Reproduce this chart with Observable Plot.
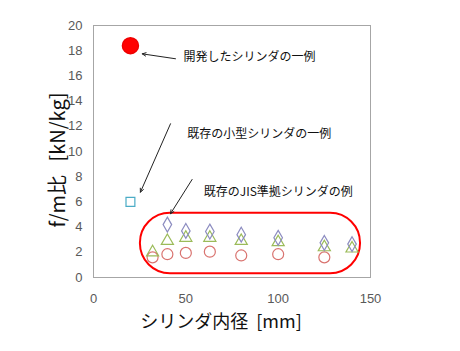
<!DOCTYPE html>
<html><head><meta charset="utf-8">
<script src="https://cdn.jsdelivr.net/npm/d3@7"></script>
<script src="https://cdn.jsdelivr.net/npm/@observablehq/plot@0.6"></script>
<style>body{margin:0;background:#fff;}</style>
</head><body><div id="chart"></div>
<script>
// Developed cylinder example
const devBore = [20];
const devRatio = [18.4];
// Existing small cylinder example
const smallBore = [20];
const smallRatio = [6.0];
// Existing JIS-compliant cylinders
const diamondBore = [40, 50, 63, 80, 100, 125, 140];
const diamondRatio = [4.2, 3.7, 3.65, 3.4, 3.15, 2.75, 2.65];
const triangleBore = [32, 40, 50, 63, 80, 100, 125, 140];
const triangleRatio = [2.0, 2.9, 3.15, 3.15, 2.9, 2.8, 2.4, 2.3];
const circleBore = [32, 40, 50, 63, 80, 100, 125];
const circleRatio = [1.6, 1.85, 1.95, 2.05, 1.75, 1.85, 1.6];

const xTicks = [0, 50, 100, 150];
const yTicks = [0, 2, 4, 6, 8, 10, 12, 14, 16, 18, 20];

const xLabel = "シリンダ内径  [mm]";
const yLabel = "f/m比   [kN/kg]";

// annotations: label text, label anchor point, arrow tail and tip (data coords)
const annoText = ["開発したシリンダの一例", "既存の小型シリンダの一例", "既存のJIS準拠シリンダの例"];
const annoX = [48.7, 50.7, 59.7];
const annoY = [17.45, 11.4, 6.77];
const arrowX1 = [44.4, 41.7, 53.4];
const arrowY1 = [17.36, 12.2, 7.78];
const arrowX2 = [26.4, 25.4, 41.7];
const arrowY2 = [17.75, 6.77, 5.06];
// enclosing rounded box around JIS group
const boxX = [25.4, 144.6];
const boxY = [0.3, 5.1];

const pts = (xs, ys) => xs.map((x, i) => ({x, y: ys[i]}));
const annos = annoText.map((t, i) => ({t, x: annoX[i], y: annoY[i], x1: arrowX1[i], y1: arrowY1[i], x2: arrowX2[i], y2: arrowY2[i]}));

const font = "'Noto Sans CJK JP', 'Noto Sans', sans-serif";

const chart = Plot.plot({
  width: 460,
  height: 351,
  marginLeft: 93,
  marginRight: 90,
  marginTop: 25,
  marginBottom: 74,
  style: {fontFamily: font, background: "#fff"},
  x: {domain: [0, 150]},
  y: {domain: [0, 20]},
  marks: [
    Plot.frame({stroke: "#a6a6a6"}),
    Plot.axisX({ticks: xTicks, tickSize: 0, tickPadding: 16, fontSize: 13, color: "#595959", label: null, fontFamily: "'Liberation Sans', sans-serif"}),
    Plot.axisY({ticks: yTicks, tickSize: 0, tickPadding: 11, fontSize: 13, color: "#595959", label: null, fontFamily: "'Liberation Sans', sans-serif"}),
    Plot.text([xLabel], {frameAnchor: "bottom", dy: 50, dx: -11, text: d => d, fontSize: 18, fill: "#111"}),
    Plot.rect([0], {x1: () => boxX[0], x2: () => boxX[1], y1: () => boxY[0], y2: () => boxY[1], rx: 30, fill: "none", stroke: "#ff0000", strokeWidth: 2}),
    Plot.dot(pts(circleBore, circleRatio), {x: "x", y: "y", symbol: "circle", r: 5.5, stroke: "#d9736f", strokeWidth: 1.2}),
    Plot.dot(pts(triangleBore, triangleRatio), {x: "x", y: "y", symbol: "triangle", r: 4.5, stroke: "#9bbb59", strokeWidth: 1.2}),
    Plot.dot(pts(diamondBore, diamondRatio), {x: "x", y: "y", symbol: "diamond", r: 4.5, stroke: "#8c8cc0", strokeWidth: 1.2}),
    Plot.dot(pts(smallBore, smallRatio), {x: "x", y: "y", symbol: "square", r: 5, stroke: "#4bacc6", strokeWidth: 1.2}),
    Plot.dot(pts(devBore, devRatio), {x: "x", y: "y", symbol: "circle", r: 8, fill: "#ff0000", stroke: "#ee0000"}),
    Plot.arrow(annos, {x1: "x1", y1: "y1", x2: "x2", y2: "y2", stroke: "#222", strokeWidth: 1, headLength: 6, headAngle: 50}),
    Plot.text(annos, {x: "x", y: "y", text: "t", textAnchor: "start", fontSize: 12, fill: "#111"})
  ]
});
// rotated y-axis title
d3.select(chart).append("text")
  .attr("transform", "translate(56,160) rotate(-90)")
  .attr("text-anchor", "middle")
  .attr("dominant-baseline", "central")
  .attr("font-size", 20)
  .attr("fill", "#111")
  .attr("font-family", font)
  .style("white-space", "pre")
  .text(yLabel);
document.getElementById("chart").appendChild(chart);
</script>
</body></html>
